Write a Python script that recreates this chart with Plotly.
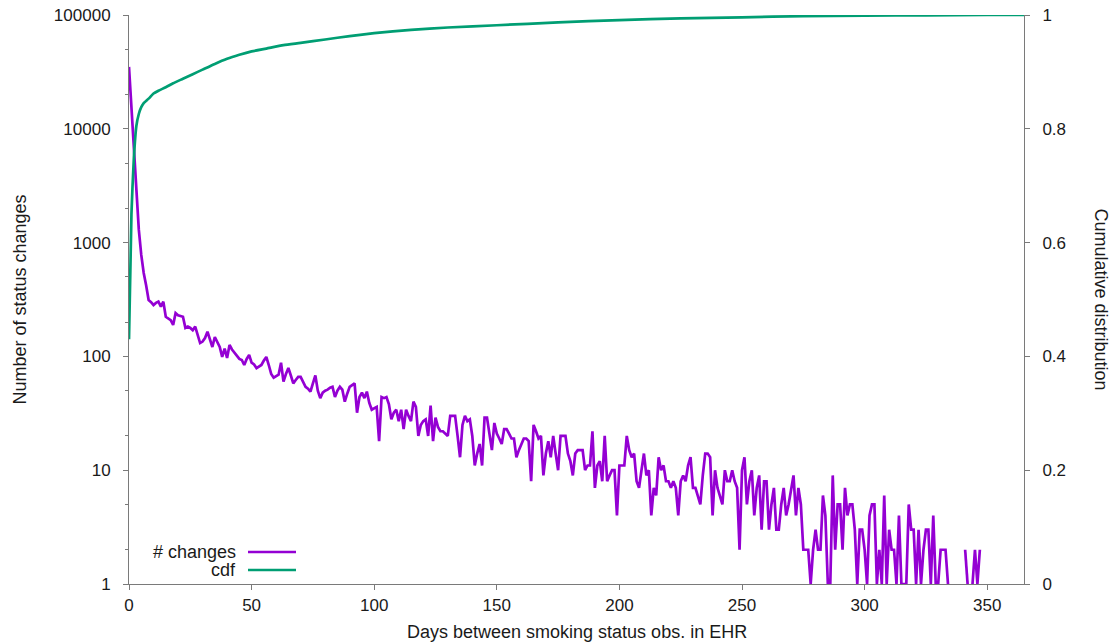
import plotly.graph_objects as go

# Number of smoking-status changes observed per day gap (0 = none recorded)
days = list(range(0, 365))
changes = [
    35000, 16000, 7000, 3000, 1300, 780, 540, 420, 313, 300,
    283, 295, 303, 274, 303, 223, 215, 208, 189, 240,
    230, 225, 223, 178, 183, 178, 170, 183, 155, 131,
    135, 145, 165, 140, 121, 148, 135, 121, 99, 117,
    97, 126, 115, 108, 103, 95, 93, 84, 95, 103,
    88, 85, 79, 82, 84, 92, 99, 84, 70, 65,
    67, 69, 88, 60, 70, 79, 68, 58, 62, 66,
    66, 60, 54, 52, 49, 58, 68, 50, 43, 48,
    50, 51, 53, 54, 44, 50, 54, 51, 40, 47,
    54, 56, 58, 32, 44, 48, 43, 49, 39, 34,
    35, 36, 18, 44, 43, 44, 38, 28, 32, 34,
    27, 34, 23, 34, 30, 27, 40, 36, 20, 25,
    27, 28, 20, 37, 18, 29, 24, 22, 22, 21,
    20, 30, 30, 30, 20, 13, 25, 30, 27, 28,
    20, 11, 14, 17, 11, 29, 29, 20, 15, 26,
    21, 19, 17, 23, 23, 21, 19, 19, 13, 15,
    17, 19, 19, 18, 8, 25, 22, 19, 20, 9,
    14, 18, 13, 20, 14, 10, 20, 20, 20, 14,
    12, 9, 14, 15, 15, 15, 10, 11, 11, 22,
    7, 11, 12, 8, 20, 8, 9, 10, 10, 4,
    11, 11, 11, 20, 15, 13, 14, 8, 7, 10,
    14, 9, 10, 4, 7, 6, 13, 10, 11, 8,
    8, 7, 8, 7, 4, 8, 9, 8, 11, 13,
    7, 7, 6, 5, 9, 14, 14, 13, 4, 10,
    7, 6, 5, 10, 8, 8, 10, 8, 7, 2,
    10, 13, 5, 8, 10, 4, 7, 9, 3, 8,
    8, 3, 5, 7, 3, 3, 5, 7, 4, 5,
    7, 9, 4, 7, 5, 2, 2, 2, 1, 2,
    3, 2, 2, 6, 4, 1, 1, 9, 2, 5,
    5, 2, 7, 4, 5, 5, 3, 1, 3, 3,
    2, 1, 4, 5, 5, 1, 2, 1, 6, 1,
    3, 2, 2, 1, 4, 1, 1, 1, 5, 3,
    3, 1, 3, 1, 2, 3, 3, 1, 4, 1,
    1, 2, 2, 2, 1, 0, 0, 0, 0, 0,
    0, 2, 1, 0, 1, 2, 1, 2, 0, 0,
    0, 0, 0, 0, 0, 0, 0, 0, 0, 0,
    0, 0, 0, 0, 0,
]

# Cumulative distribution of the gap, sampled along the curve
cdf_days = [0, 1, 2, 3, 4, 5, 6, 8, 10, 12, 15, 18, 22, 26, 30, 35, 40, 45, 50,
            56, 63, 70, 80, 90, 100, 115, 130, 150, 175, 200, 225, 250, 275,
            300, 325, 350, 365]
cdf_vals = [0.43, 0.65, 0.75, 0.805, 0.826, 0.838, 0.845, 0.853, 0.862, 0.867,
            0.873, 0.880, 0.888, 0.896, 0.904, 0.914, 0.923, 0.930, 0.936,
            0.941, 0.947, 0.951, 0.957, 0.963, 0.968, 0.974, 0.978, 0.982,
            0.987, 0.991, 0.994, 0.996, 0.998, 0.999, 0.9995, 1.0, 1.0]

left_ticks = [1, 10, 100, 1000, 10000, 100000]
left_minor = [2, 5, 20, 50, 200, 500, 2000, 5000, 20000, 50000]
right_ticks = [0, 0.2, 0.4, 0.6, 0.8, 1]
x_ticks = [0, 50, 100, 150, 200, 250, 300, 350]

series_names = ["# changes", "cdf"]
PURPLE = "#9400d3"
GREEN = "#009e73"
AXIS = "#7a7a7a"
TEXT = "#1a1a1a"
FONT = "Liberation Sans"
TICK_FS = 17
LABEL_FS = 18

# zero counts have no position on a log axis -> leave a gap
changes_plot = [c if c > 0 else None for c in changes]

fig = go.Figure()
fig.add_trace(go.Scatter(x=days, y=changes_plot, mode="lines", name=series_names[0],
                         line=dict(color=PURPLE, width=2.7), connectgaps=False,
                         yaxis="y"))
fig.add_trace(go.Scatter(x=cdf_days, y=cdf_vals, mode="lines", name=series_names[1],
                         line=dict(color=GREEN, width=2.7, shape="spline", smoothing=0.6),
                         yaxis="y2"))

axis_common = dict(showgrid=False, zeroline=False, showline=True, linecolor=AXIS,
                   linewidth=1, ticks="outside", ticklen=5, tickcolor=AXIS,
                   automargin=False,
                   tickfont=dict(family=FONT, size=TICK_FS, color=TEXT))

fig.update_layout(
    width=1113, height=644,
    margin=dict(l=129, r=89, t=15, b=60),
    paper_bgcolor="white", plot_bgcolor="white",
    showlegend=False,
    xaxis=dict(range=[0, 365], tickvals=x_ticks, ticklabelstandoff=1, **axis_common),
    yaxis=dict(type="log", range=[0, 5], tickvals=left_ticks,
               ticktext=[str(v) for v in left_ticks], ticklabelstandoff=9,
               minor=dict(tickvals=left_minor, ticks="outside", ticklen=3, tickcolor=AXIS),
               **axis_common),
    yaxis2=dict(overlaying="y", side="right", range=[0, 1], tickvals=right_ticks,
                ticklabelstandoff=9, **axis_common),
)

def px_x(p):
    return (p - 129) / 895.0

def px_y(p):
    return (584 - p) / 569.0

title_font = dict(family=FONT, size=LABEL_FS, color=TEXT)
fig.add_annotation(text="Days between smoking status obs. in EHR", xref="paper", yref="paper",
                   x=0.5, y=px_y(632), xanchor="center", yanchor="middle",
                   showarrow=False, font=title_font)
fig.add_annotation(text="Number of status changes", xref="paper", yref="paper",
                   x=px_x(19), y=0.5, xanchor="center", yanchor="middle", textangle=-90,
                   showarrow=False, font=title_font)
fig.add_annotation(text="Cumulative distribution", xref="paper", yref="paper",
                   x=px_x(1101), y=0.5, xanchor="center", yanchor="middle", textangle=90,
                   showarrow=False, font=title_font)

# key in the lower-left corner: label on the left, line sample on the right
for name, color, ypix in [(series_names[0], PURPLE, 552), (series_names[1], GREEN, 570)]:
    fig.add_annotation(text=name, xref="paper", yref="paper", x=px_x(238), y=px_y(ypix),
                       xanchor="right", yanchor="middle", showarrow=False, font=title_font)
    fig.add_shape(type="line", xref="paper", yref="paper", x0=px_x(248), x1=px_x(296),
                  y0=px_y(ypix), y1=px_y(ypix), line=dict(color=color, width=2.7))

fig.write_html("out.html")
